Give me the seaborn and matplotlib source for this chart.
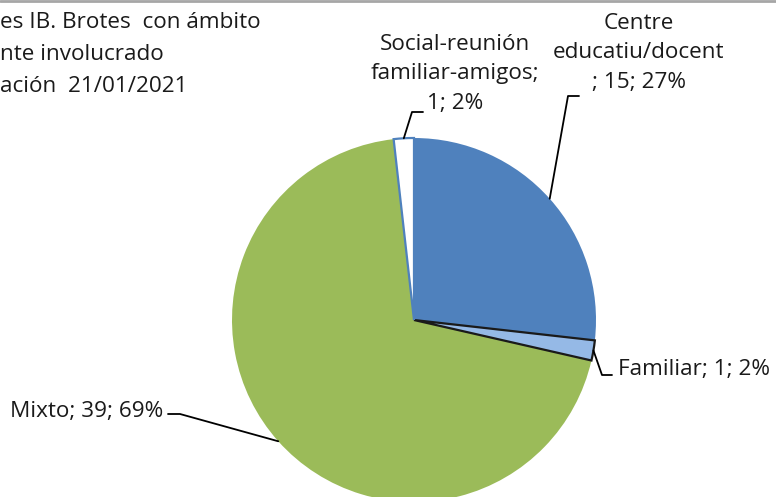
import numpy as np
import matplotlib
matplotlib.use("Agg")
import matplotlib.pyplot as plt
from matplotlib.lines import Line2D
import seaborn as sns

# Outbreak settings with number of cases
categories = ["Centre\neducatiu/docent\n", "Familiar", "Mixto", "Social-reunión\nfamiliar-amigos;\n"]
counts = [15, 1, 39, 1]
colors = ["#4F81BD", "#95B9E6", "#9BBB59", "#FFFFFF"]
edge_colors = ["none", "#1A1A1A", "none", "#4F81BD"]
title_lines = ["es IB. Brotes  con ámbito", "nte involucrado", "ación  21/01/2021"]

sns.set_theme(style="white")
plt.rcParams["font.family"] = ["Open Sans", "DejaVu Sans"]

W, H = 776, 497
fig = plt.figure(figsize=(W / 100, H / 100), dpi=100)

# pie placement in pixels (centre and radius)
CX, CY, R = 414, 320, 182
ax = fig.add_axes([(CX - R) / W, (H - CY - R) / H, 2 * R / W, 2 * R / H])


def pct_labels(vals):
    """Whole-number percentages that add up to 100 (largest remainder)."""
    vals = np.asarray(vals, float)
    raw = vals / vals.sum() * 100
    base = np.floor(raw).astype(int)
    left = 100 - base.sum()
    order = np.argsort(-(raw - base), kind="stable")
    base[order[:left]] += 1
    return base


pcts = pct_labels(counts)

wedges, _ = ax.pie(counts, colors=colors, startangle=90, counterclock=False,
                   radius=1.0, wedgeprops=dict(linewidth=0))
for w, ec in zip(wedges, edge_colors):
    if ec != "none":
        w.set_edgecolor(ec)
        w.set_linewidth(1.6)
        w.set_zorder(3)
ax.set_xlim(-1, 1)
ax.set_ylim(-1, 1)
ax.set_aspect("auto")
ax.axis("off")


def to_data(px, py):
    return (px - CX) / R, (CY - py) / R


def mid_point(w):
    ang = np.deg2rad((w.theta1 + w.theta2) / 2)
    return np.cos(ang), np.sin(ang)


FS = 16.2
# leader elbow/end (pixels), text anchor (pixels) and alignment
label_layout = [
    dict(elbow=(568, 96), end=(579, 96), text=(639, 53), ha="center"),
    dict(elbow=(602, 375), end=(612, 375), text=(618, 369), ha="left"),
    dict(elbow=(180, 414), end=(168, 414), text=(163, 411), ha="right"),
    dict(elbow=(412, 112), end=(423, 112), text=(455, 74), ha="center"),
]

for w, name, n, p, lay in zip(wedges, categories, counts, pcts, label_layout):
    ax0 = mid_point(w)
    e = to_data(*lay["elbow"])
    f = to_data(*lay["end"])
    ax.add_line(Line2D([ax0[0], e[0], f[0]], [ax0[1], e[1], f[1]],
                       color="black", lw=1.3, clip_on=False, zorder=4))
    if name.endswith("\n"):
        sep = "; " if name.startswith("Centre") else ""
        txt = f"{name}{sep}{n}; {p}%"
    else:
        txt = f"{name}; {n}; {p}%"
    tx, ty = lay["text"]
    fig.text(tx / W, 1 - ty / H, txt, ha=lay["ha"], va="center", fontsize=FS,
             color="#1A1A1A", linespacing=1.53, multialignment="center")

# title block (left edge runs off the figure)
for i, line in enumerate(title_lines):
    fig.text(0 / W, 1 - (22 + 32.5 * i) / H, line, ha="left", va="center",
             fontsize=FS, color="#1A1A1A")

# thin frame line along the top
fig.add_artist(Line2D([0, 1], [1 - 1.2 / H, 1 - 1.2 / H], transform=fig.transFigure,
                      color="#A6A6A6", lw=2))

fig.savefig("out.png", dpi=100)
